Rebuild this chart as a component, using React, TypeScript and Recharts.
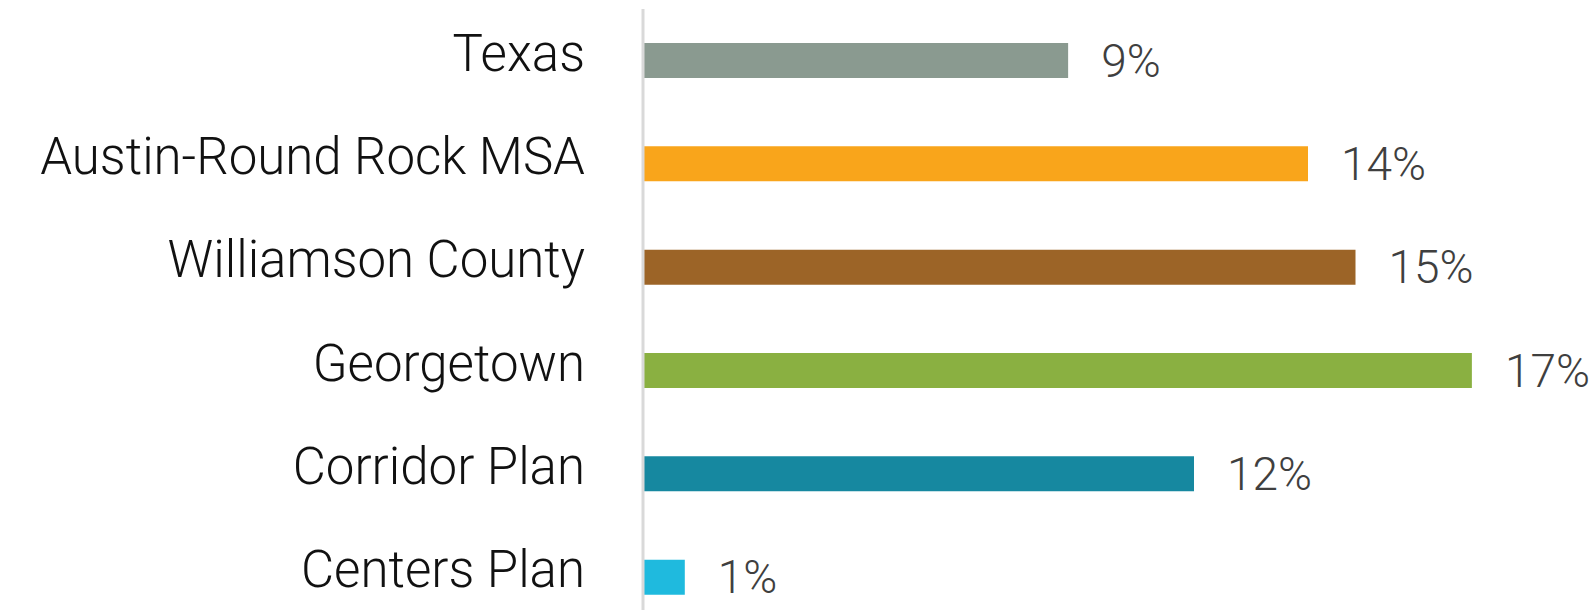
import React from 'react';
import { BarChart, Bar, XAxis, YAxis, Cell, LabelList } from 'recharts';

const categories = ['Texas', 'Austin-Round Rock MSA', 'Williamson County', 'Georgetown', 'Corridor Plan', 'Centers Plan'];
const values = [0.0895, 0.14, 0.15, 0.1745, 0.116, 0.0088];
const colors = ['#8a9a90', '#f9a51b', '#9c6427', '#8ab041', '#1688a0', '#1fbade'];

const data = categories.map((name, i) => ({ name, value: values[i] }));

const CategoryTick = (props: any) => {
  const { x, y, payload } = props;
  return (
    <text x={x} y={y + 10} textAnchor="end" fill="#111111" fontSize={51} fontFamily="Roboto" fontWeight={300}>
      {payload.value}
    </text>
  );
};

export default function App() {
  return (
    <div style={{ position: 'absolute', left: 0, top: 0 }}>
      <BarChart
        width={1590}
        height={640}
        data={data}
        layout="vertical"
        margin={{ top: 9, right: 92, bottom: 11, left: 0 }}
      >
        <XAxis type="number" domain={[0, 0.18]} hide />
        <YAxis
          type="category"
          dataKey="name"
          width={643}
          axisLine={{ stroke: '#d9d9d9', strokeWidth: 3 }}
          tickLine={false}
          tickSize={0}
          tickMargin={58}
          tick={<CategoryTick />}
          interval={0}
        />
        <Bar dataKey="value" barSize={35} isAnimationActive={false}>
          {data.map((d, i) => (
            <Cell key={d.name} fill={colors[i]} />
          ))}
          <LabelList
            dataKey="value"
            position="right"
            offset={33}
            formatter={(v: any) => `${Math.round(Number(v) * 100)}%`}
            fill="#3f3f3f"
            fontSize={46}
            fontFamily="Roboto"
            fontWeight={300}
          />
        </Bar>
      </BarChart>
    </div>
  );
}
